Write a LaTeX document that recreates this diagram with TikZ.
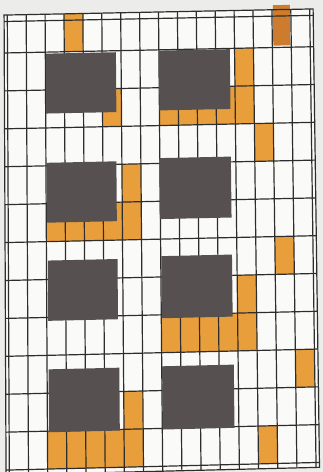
\documentclass[tikz,border=0pt]{standalone}
\definecolor{paper}{RGB}{236,236,234}
\definecolor{cellw}{RGB}{250,250,248}
\definecolor{ink}{RGB}{45,45,45}
\definecolor{mark}{RGB}{232,158,58}
\definecolor{markdark}{RGB}{204,124,44}
\definecolor{block}{RGB}{86,80,80}
% bilinear map from grid coordinates (u = column, v = row) to picture coordinates
\newcommand\gp[3]{%
  \pgfmathsetmacro\gpx{(1-(#3)/12)*((1-(#2)/16)*7.3+((#2)/16)*309.7)+((#3)/12)*((1-(#2)/16)*9.3+((#2)/16)*316)}%
  \pgfmathsetmacro\gpy{(1-(#3)/12)*((1-(#2)/16)*15+((#2)/16)*9)+((#3)/12)*((1-(#2)/16)*470+((#2)/16)*462.5)}%
  \coordinate (#1) at (\gpx,\gpy);%
}
\newcommand\quadfill[5]{%
  \gp{qa}{#2}{#3}\gp{qb}{#4}{#3}\gp{qc}{#4}{#5}\gp{qd}{#2}{#5}%
  \fill[#1] (qa) -- (qb) -- (qc) -- (qd) -- cycle;%
}
\newcommand\gline[4]{%
  \gp{la}{#1}{#2}\gp{lb}{#3}{#4}\draw[gridline] (la) -- (lb);%
}
\tikzset{
  gridline/.style={draw=ink, line width=1.2pt},
  markfill/.style={fill=mark},
  markdeep/.style={fill=markdark},
  blockfill/.style={fill=block},
  cellfill/.style={fill=cellw}
}
\begin{document}
\begin{tikzpicture}[x=1pt,y=-1pt]
\useasboundingbox (0,0) rectangle (323,472);
\fill[paper] (0,0) rectangle (323,472);
% paper inside the frame
\quadfill{cellfill}{-0.17}{0}{16.18}{12.13}
% orange marked cells
\foreach \c/\r in {3/0,
  5/2,
  12/1,12/2,8/2,9/2,10/2,11/2,
  13/3,
  6/4,6/5,2/5,3/5,4/5,5/5,
  14/6,
  12/7,12/8,8/8,9/8,10/8,11/8,
  15/9,
  6/10,6/11,2/11,3/11,4/11,5/11,
  13/11}{%
  \quadfill{markfill}{\c}{\r}{\c+1}{\r+1}%
}
\quadfill{markdeep}{14.05}{-0.12}{14.95}{0.95}
% grid: vertical lines
\foreach \u in {0,...,16}{\gline{\u}{0}{\u}{12.13}}
% grid: horizontal lines
\foreach \v in {1,...,12}{\gline{-0.17}{\v}{16.18}{\v}}
% frame and extra border lines
\gp{fa}{-0.17}{0}\gp{fb}{16.18}{0}\gp{fc}{16.18}{12.13}\gp{fd}{-0.17}{12.13}
\draw[gridline] (fa) -- (fb) -- (fc) -- (fd) -- cycle;
\gline{-0.17}{0.17}{16.18}{0.17}
% dark grey blocks
\quadfill{blockfill}{2.03}{1.04}{5.73}{2.62}
\quadfill{blockfill}{8.0}{1.02}{11.75}{2.6}
\quadfill{blockfill}{2.04}{3.92}{5.71}{5.5}
\quadfill{blockfill}{7.97}{3.86}{11.74}{5.47}
\quadfill{blockfill}{2.07}{6.5}{5.73}{8.09}
\quadfill{blockfill}{8.03}{6.45}{11.74}{8.09}
\quadfill{blockfill}{2.08}{9.37}{5.78}{11.03}
\quadfill{blockfill}{8.02}{9.36}{11.77}{11.03}
\end{tikzpicture}
\end{document}
